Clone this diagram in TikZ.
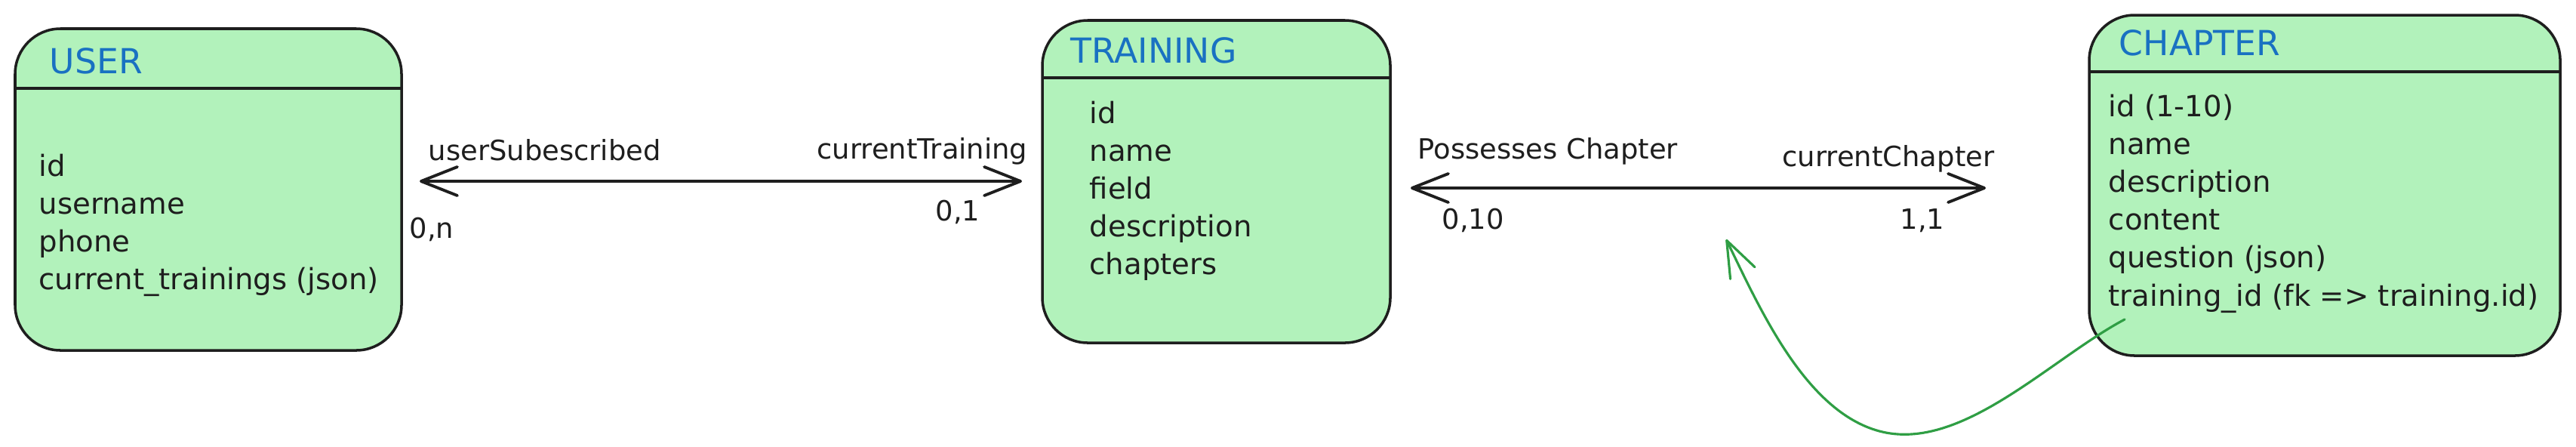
\documentclass[tikz,border=0pt]{standalone}
\usepackage{fontspec}
\setmainfont{DejaVu Sans}
\usetikzlibrary{arrows.meta}
\definecolor{ink}{HTML}{1E1E1E}
\definecolor{entityfill}{HTML}{B2F2BB}
\definecolor{titleblue}{HTML}{1971C2}
\definecolor{fkgreen}{HTML}{2F9E44}

\begin{document}
\begin{tikzpicture}[
    entity/.style={draw=ink, fill=entityfill, line width=1pt, rounded corners=6mm,
                   inner sep=0pt, outer sep=0pt},
    etitle/.style={anchor=base west, inner sep=0pt, text=titleblue,
                   font=\fontsize{13}{16}\selectfont},
    field/.style={anchor=base west, inner sep=0pt, text=ink,
                  font=\fontsize{11}{14}\selectfont},
    card/.style={inner sep=0pt, text=ink, font=\fontsize{10.5}{13}\selectfont},
    divider/.style={draw=ink, line width=1pt},
    rel/.style={<->, >={Straight Barb[length=4.8mm, width=3.8mm, round]},
                draw=ink, line width=1.1pt, line cap=round},
    fklink/.style={->, >={Straight Barb[length=4.8mm, width=3.6mm, round]},
                   draw=fkgreen, line width=0.9pt, line cap=round}
]
    \useasboundingbox (0,0) rectangle (34.13,-5.91);

    % Entity boxes
    \node[entity, minimum width=5.12cm, minimum height=4.26cm] (user) at (2.76,-2.51) {};
    \node[entity, minimum width=4.61cm, minimum height=4.27cm] (training) at (16.115,-2.405) {};
    \node[entity, minimum width=6.24cm, minimum height=4.51cm] (chapter) at (30.80,-2.455) {};

    % Header dividers
    \draw[divider] ([yshift=-7.9mm]user.north west) -- ([yshift=-7.9mm]user.north east);
    \draw[divider] ([yshift=-7.6mm]training.north west) -- ([yshift=-7.6mm]training.north east);
    \draw[divider] ([yshift=-7.5mm]chapter.north west) -- ([yshift=-7.5mm]chapter.north east);

    % Titles
    \node[etitle] (usertitle) at (0.65,-0.97) {USER};
    \node[etitle] (trainingtitle) at (14.18,-0.83) {TRAINING};
    \node[etitle] (chaptertitle) at (28.07,-0.73) {CHAPTER};

    % Fields
    \foreach \f [count=\i] in {{id},{username},{phone},{current\_trainings (json)}}
        \node[field] (user-f\i) at (0.51,{-2.33-0.502*(\i-1)}) {\f};
    \foreach \f [count=\i] in {{id},{name},{field},{description},{chapters}}
        \node[field] (training-f\i) at (14.43,{-1.63-0.502*(\i-1)}) {\f};
    \foreach \f [count=\i] in {{id (1-10)},{name},{description},{content},{question (json)},{training\_id (fk => training.id)}}
        \node[field] (chapter-f\i) at (27.93,{-1.54-0.502*(\i-1)}) {\f};

    % Relations
    \coordinate (relA) at (0,-2.40);
    \coordinate (relB) at (0,-2.49);
    \draw[rel, shorten <=2.4mm, shorten >=2.7mm] (user.east |- relA) -- (training.west |- relA);
    \draw[rel, shorten <=2.7mm, shorten >=13.7mm] (training.east |- relB) -- (chapter.west |- relB);

    % Relation labels and cardinalities
    \node[card, anchor=base west] (subscribedlbl) at (5.67,-2.12) {userSubescribed};
    \node[card, anchor=base east] (currenttraininglbl) at (13.62,-2.10) {currentTraining};
    \node[card, anchor=base west] (usercard) at (5.42,-3.15) {0,n};
    \node[card, anchor=base west] (trainingcard) at (12.39,-2.92) {0,1};
    \node[card, anchor=base west] (possesseslbl) at (18.78,-2.10) {Possesses Chapter};
    \node[card, anchor=base east] (currentchapterlbl) at (26.43,-2.20) {currentChapter};
    \node[card, anchor=base west] (chaptercard) at (19.10,-3.03) {0,10};
    \node[card, anchor=base west] (currentcard) at (25.17,-3.03) {1,1};

    % Foreign key link
    \coordinate (fkstart) at ([xshift=4.7mm, yshift=4.8mm]chapter.south west);
    \coordinate (fkbend) at (24.90,-5.71);
    \coordinate (fktip) at (22.87,-3.17);
    \draw[fklink] (fkstart) to[out=208, in=345, looseness=0.8] (fkbend)
                  to[out=165, in=296, looseness=0.8] (fktip);
\end{tikzpicture}
\end{document}
